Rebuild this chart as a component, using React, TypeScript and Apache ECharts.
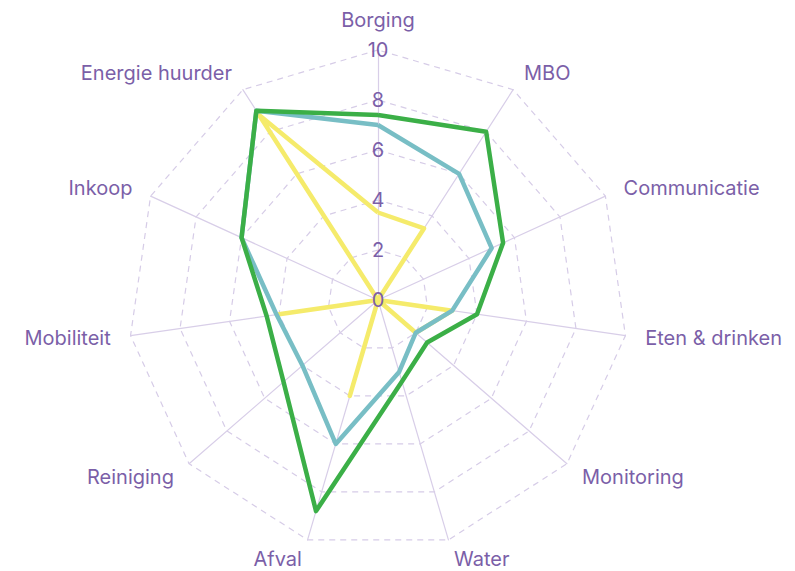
import React, { useEffect, useRef } from "react";
import * as echarts from "echarts";

// Listed clockwise from the top, as read in the reference
const indicators = [
  "Borging",
  "MBO",
  "Communicatie",
  "Eten & drinken",
  "Monitoring",
  "Water",
  "Afval",
  "Reiniging",
  "Mobiliteit",
  "Inkoop",
  "Energie huurder",
];
const maxValue = 10;
const yellowValues = [3.5, 3.4, 0, 3, 2, 0, 4, 0, 4, 0, 8.8];
const tealValues = [7, 6, 5, 3, 2, 3, 6, 4, 4.1, 6, 9];
const greenValues = [7.4, 8, 5.5, 4, 2.6, 3.4, 8.8, 5, 4.5, 6, 9];

const PURPLE = "#7b5fa8";
const FONT = "Inter, 'Noto Sans', sans-serif";

// ECharts runs radar axes counter-clockwise; reorder so they run clockwise
const order = indicators.map((_, i) => (i === 0 ? 0 : indicators.length - i));
const reorder = (arr: number[]) => order.map((i) => arr[i]);

const baseRadar = {
  center: [378, 300],
  radius: 250,
  startAngle: 90,
  splitNumber: 5,
  shape: "polygon",
  nameGap: 20,
};

export default function App() {
  const ref = useRef<HTMLDivElement>(null);
  useEffect(() => {
    const chart = echarts.init(ref.current!, null, { renderer: "svg" });
    chart.setOption({
      animation: false,
      radar: [
        {
          ...baseRadar,
          axisName: { color: PURPLE, fontSize: 20, fontFamily: FONT },
          splitArea: { show: false },
          splitLine: { lineStyle: { color: "#d6cce7", type: [6, 5], width: 1.2 } },
          axisLine: { lineStyle: { color: "#d8cee8", width: 1.2 } },
          axisTick: { show: false },
          axisLabel: { show: false },
          indicator: order.map((idx) => ({ name: indicators[idx], min: 0, max: maxValue })),
        },
        {
          // overlay radar carrying only the tick labels, drawn above the series
          ...baseRadar,
          z: 5,
          axisName: { show: false },
          splitArea: { show: false },
          splitLine: { show: false },
          axisLine: { show: false },
          axisTick: { show: false },
          axisLabel: { show: false },
          indicator: order.map((idx) =>
            idx === 0
              ? {
                  name: indicators[idx],
                  min: 0,
                  max: maxValue,
                  axisLabel: {
                    show: true,
                    color: PURPLE,
                    fontSize: 20,
                    fontFamily: FONT,
                    margin: 0,
                    align: "center",
                    verticalAlign: "middle",
                    showMinLabel: true,
                    showMaxLabel: true,
                  },
                }
              : { name: indicators[idx], min: 0, max: maxValue }
          ),
        },
      ],
      series: [
        {
          type: "radar",
          radarIndex: 0,
          symbol: "none",
          data: [
            { value: reorder(yellowValues), lineStyle: { color: "#f5eb6b", width: 4.5 } },
            { value: reorder(tealValues), lineStyle: { color: "#78bec5", width: 4.5 } },
            { value: reorder(greenValues), lineStyle: { color: "#3baf47", width: 4.5 } },
          ],
        },
      ],
    });
    return () => chart.dispose();
  }, []);
  return (
    <div
      ref={ref}
      style={{ position: "fixed", left: 0, top: 0, width: 795, height: 571, background: "#fff" }}
    />
  );
}
